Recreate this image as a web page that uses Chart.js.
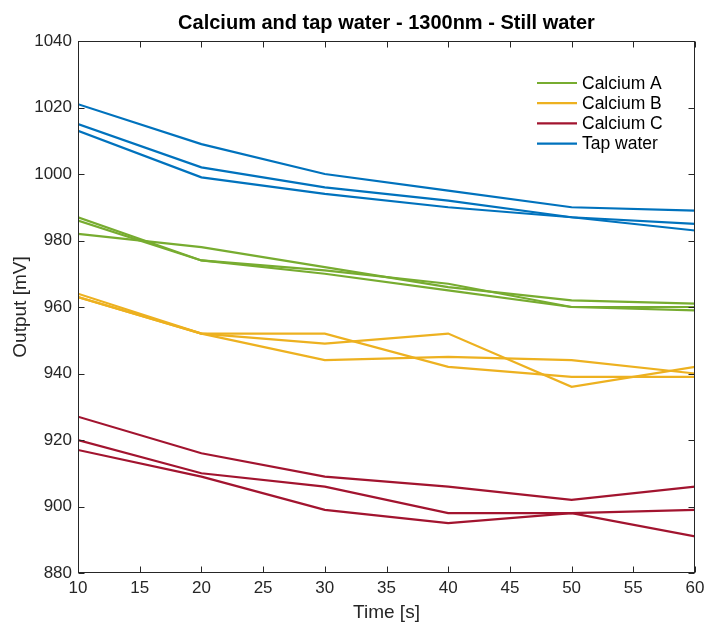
<!DOCTYPE html>
<html>
<head>
<meta charset="utf-8">
<title>Calcium and tap water - 1300nm - Still water</title>
<script src="https://cdn.jsdelivr.net/npm/chart.js@4.4.1/dist/chart.umd.min.js"></script>
<style>
  html, body { margin: 0; padding: 0; background: #fff; }
  #chart { display: block; }
</style>
</head>
<body>
<canvas id="chart" width="706" height="628"></canvas>
<script>
const FONT = '"Liberation Sans", Arial, Helvetica, sans-serif';
const AXIS_COLOR = '#262626';

// measurement times and tick positions
const timeS = [10, 20, 30, 40, 50, 60];
const xTickValues = [10, 15, 20, 25, 30, 35, 40, 45, 50, 55, 60];
const yTickValues = [880, 900, 920, 940, 960, 980, 1000, 1020, 1040];

// three runs per sample, output in mV
const calciumA = [
    [982, 978, 972, 966, 962, 961],
    [987, 974, 971, 967, 960, 960],
    [986, 974, 970, 965, 960, 959],
];
const calciumB = [
    [964, 952, 952, 942, 939, 939],
    [963, 952, 949, 952, 936, 942],
    [963, 952, 944, 945, 944, 940],
];
const calciumC = [
    [927, 916, 909, 906, 902, 906],
    [920, 910, 906, 898, 898, 899],
    [917, 909, 899, 895, 898, 891],
];
const tapWater = [
    [1021, 1009, 1000, 995, 990, 989],
    [1015, 1002, 996, 992, 987, 985],
    [1013, 999, 994, 990, 987, 983],
];

const seriesNames = ['Calcium A', 'Calcium B', 'Calcium C', 'Tap water'];
const seriesColors = ['#77AC30', '#EDB120', '#A2142F', '#0072BD'];
const seriesRuns = [calciumA, calciumB, calciumC, tapWater];

const datasets = [];
seriesRuns.forEach((runs, s) => {
    runs.forEach((run, r) => {
        datasets.push({
            label: seriesNames[s] + ' ' + (r + 1),
            data: timeS.map((t, i) => ({ x: t, y: run[i] })),
            borderColor: seriesColors[s],
            backgroundColor: seriesColors[s],
            borderWidth: 2.2,
            pointRadius: 0,
            tension: 0,
            fill: false,
            // later series drawn on top
            order: seriesRuns.length - s,
        });
    });
});

// box around the axes, inward ticks on all sides, legend and title
const axesFrame = {
    id: 'axesFrame',
    afterDraw(chart) {
        const { ctx, chartArea: a, scales: { x, y } } = chart;
        const left = Math.round(a.left) + 0.5;
        const right = Math.round(a.right) - 0.5;
        const top = Math.round(a.top) + 0.5;
        const bottom = Math.round(a.bottom) - 0.5;
        const tick = 6;

        ctx.save();
        ctx.strokeStyle = AXIS_COLOR;
        ctx.lineWidth = 1;
        ctx.strokeRect(left, top, right - left, bottom - top);

        ctx.beginPath();
        xTickValues.forEach(v => {
            const px = Math.round(x.getPixelForValue(v)) + 0.5;
            ctx.moveTo(px, bottom); ctx.lineTo(px, bottom - tick);
            ctx.moveTo(px, top); ctx.lineTo(px, top + tick);
        });
        yTickValues.forEach(v => {
            const py = Math.round(y.getPixelForValue(v)) + 0.5;
            ctx.moveTo(left, py); ctx.lineTo(left + tick, py);
            ctx.moveTo(right, py); ctx.lineTo(right - tick, py);
        });
        ctx.stroke();

        // legend
        ctx.font = '17.5px ' + FONT;
        ctx.textBaseline = 'middle';
        ctx.textAlign = 'left';
        seriesNames.forEach((name, i) => {
            const ry = a.top + 42 + i * 20.2;
            ctx.strokeStyle = seriesColors[i];
            ctx.lineWidth = 2.2;
            ctx.beginPath();
            ctx.moveTo(a.right - 158, ry);
            ctx.lineTo(a.right - 118, ry);
            ctx.stroke();
            ctx.fillStyle = '#000';
            ctx.fillText(name, a.right - 113, ry + 1);
        });

        // title
        ctx.font = 'bold 20px ' + FONT;
        ctx.textAlign = 'center';
        ctx.textBaseline = 'alphabetic';
        ctx.fillStyle = '#000';
        ctx.fillText('Calcium and tap water - 1300nm - Still water', (a.left + a.right) / 2, 29);
        ctx.restore();
    }
};

new Chart(document.getElementById('chart'), {
    type: 'line',
    data: { datasets },
    options: {
        responsive: false,
        animation: false,
        layout: { padding: { top: 41, right: 11, left: 0, bottom: 0 } },
        plugins: {
            legend: { display: false },
            title: { display: false },
            tooltip: { enabled: false },
        },
        scales: {
            x: {
                type: 'linear',
                min: 10,
                max: 60,
                afterBuildTicks: s => { s.ticks = xTickValues.map(v => ({ value: v })); },
                afterFit: s => { s.height = 55; s.paddingLeft = 0; s.paddingRight = 0; },
                grid: { display: false, drawTicks: false },
                border: { display: false },
                ticks: {
                    padding: 5,
                    maxRotation: 0,
                    color: AXIS_COLOR,
                    font: { family: FONT, size: 17 },
                    callback: v => String(v),
                },
                title: {
                    display: true,
                    text: 'Time [s]',
                    color: AXIS_COLOR,
                    font: { family: FONT, size: 19 },
                    padding: { top: 0, bottom: 4 },
                },
            },
            y: {
                min: 880,
                max: 1040,
                afterBuildTicks: s => { s.ticks = yTickValues.map(v => ({ value: v })); },
                afterFit: s => { s.width = 78; s.paddingTop = 0; s.paddingBottom = 0; },
                grid: { display: false, drawTicks: false },
                border: { display: false },
                ticks: {
                    padding: 6,
                    color: AXIS_COLOR,
                    font: { family: FONT, size: 17 },
                    callback: v => String(v),
                },
                title: {
                    display: true,
                    text: 'Output [mV]',
                    color: AXIS_COLOR,
                    font: { family: FONT, size: 19 },
                    padding: { top: 9, bottom: 0 },
                },
            },
        },
    },
    plugins: [axesFrame],
});
</script>
</body>
</html>
